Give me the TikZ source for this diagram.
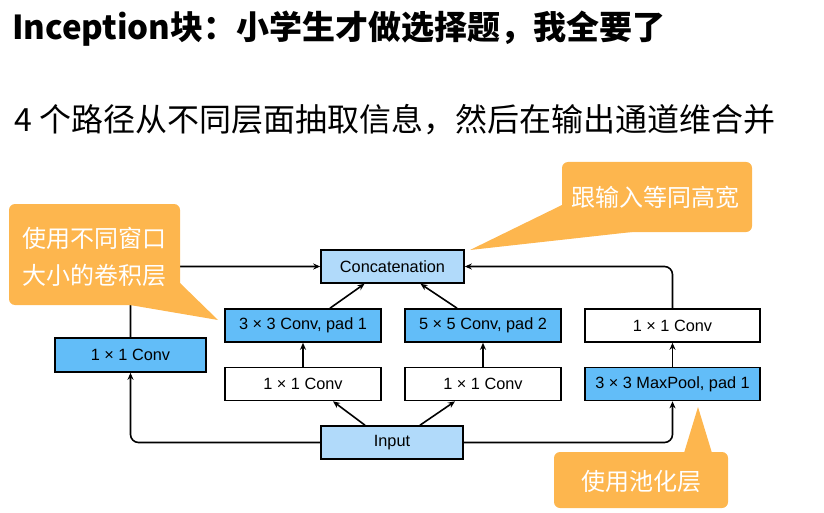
\documentclass[tikz,border=0pt]{standalone}
\usepackage{fontspec}
\setmainfont{Liberation Sans}
\newfontfamily\cjk{Noto Sans CJK SC}
\usetikzlibrary{arrows.meta}

\definecolor{convblue}{HTML}{62BDF8}
\definecolor{ioblue}{HTML}{B1DAFA}
\definecolor{noteorange}{HTML}{FDB64E}

\begin{document}
\begin{tikzpicture}[x=1pt,y=-1pt,>={Stealth[length=7pt,width=6pt]},
  blk/.style={draw,line width=1.6pt,inner sep=0pt,minimum height=33pt,
    font=\fontsize{16.3}{19}\selectfont},
  flow/.style={->,line width=1.6pt,rounded corners=8pt},
  note/.style={fill=noteorange},
  notetext/.style={text=white,align=center,inner sep=0pt,
    font=\cjk\fontsize{24}{37}\selectfont}]
  \useasboundingbox (0,0) rectangle (824,513);
  % headings
  \node[anchor=west,inner sep=0pt,font=\cjk\bfseries\fontsize{33}{38}\selectfont]
    (title) at (12,29) {Inception块：小学生才做选择题，我全要了};
  \node[anchor=west,inner sep=0pt,font=\cjk\fontsize{32}{38}\selectfont]
    (sub) at (14,120) {4 个路径从不同层面抽取信息，然后在输出通道维合并};
  % blocks
  \node[blk,fill=ioblue,minimum width=143pt] (concat) at (392.5,266.5) {Concatenation};
  \node[blk,fill=ioblue,minimum width=142pt] (input) at (392,442.5) {Input};
  \node[blk,fill=convblue,minimum width=151pt,minimum height=34pt] (conv1l) at (130.5,355) {1 × 1 Conv};
  \node[blk,fill=convblue,minimum width=156pt] (conv3) at (303,325.5) {3 × 3 Conv, pad 1};
  \node[blk,fill=convblue,minimum width=156pt] (conv5) at (483,325.5) {5 × 5 Conv, pad 2};
  \node[blk,minimum width=175pt] (conv1r) at (672.5,325.5) {1 × 1 Conv};
  \node[blk,minimum width=156pt] (red3) at (303,384) {1 × 1 Conv};
  \node[blk,minimum width=156pt] (red5) at (483,384) {1 × 1 Conv};
  \node[blk,fill=convblue,minimum width=175pt] (pool) at (672.5,384) {3 × 3 MaxPool, pad 1};
  % paths
  \draw[flow] (input.west) -| (conv1l.south);
  \draw[flow] (conv1l.north) |- (concat.west);
  \draw[flow] ([xshift=-27pt]input.north) -- ([xshift=30pt]red3.south);
  \draw[flow] ([xshift=28pt]input.north) -- ([xshift=-28pt]red5.south);
  \foreach \a/\b in {red3/conv3,red5/conv5,pool/conv1r}
    \draw[flow] (\a) -- (\b);
  \draw[flow] ([xshift=27pt]conv3.north) -- ([xshift=-28pt]concat.south);
  \draw[flow] ([xshift=-26pt]conv5.north) -- ([xshift=28pt]concat.south);
  \draw[flow] (input.east) -| (pool.south);
  \draw[flow] (conv1r.north) |- (concat.east);
  % callouts
  \fill[note,rounded corners=6pt] (9,204) rectangle (180,305);
  \fill[note] (180,283) -- (218,320) -- (130,305) -- cycle;
  \node[notetext] (win) at (94,256.5) {使用不同窗口\\大小的卷积层};
  \fill[note,rounded corners=6pt] (562,162) rectangle (752,232);
  \fill[note] (562,205) -- (470,250) -- (632,232) -- cycle;
  \node[notetext] (same) at (655,197) {跟输入等同高宽};
  \fill[note,rounded corners=6pt] (554,452) rectangle (728,508);
  \fill[note] (684,453) -- (698,407) -- (712,453) -- cycle;
  \node[notetext] (pooling) at (641,481) {使用池化层};
\end{tikzpicture}
\end{document}
